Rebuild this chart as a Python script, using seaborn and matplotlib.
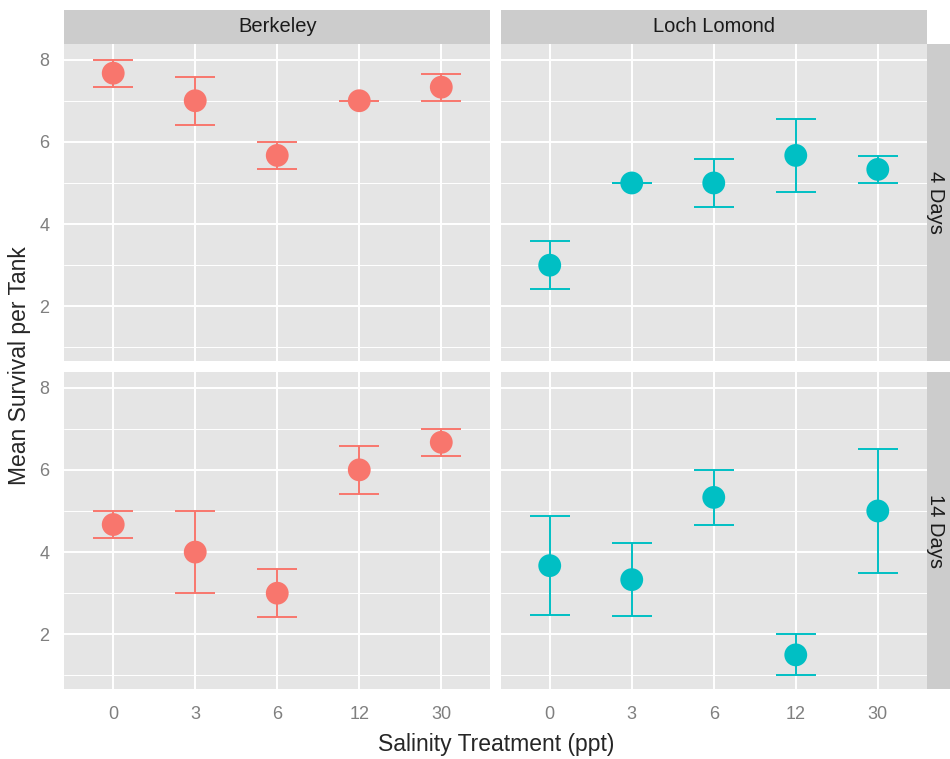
import numpy as np
import pandas as pd
import matplotlib
matplotlib.use("Agg")
import matplotlib.pyplot as plt
import seaborn as sns
from matplotlib.patches import Rectangle

# ── data ──────────────────────────────────────────────────────────────────────
salinity    = ["0", "3", "6", "12", "30"]
populations = ["Berkeley", "Loch Lomond"]
durations   = ["4 Days", "14 Days"]

berkeley_4_mean  = [7.67, 7.00, 5.67, 7.00, 7.33]
berkeley_4_se    = [0.33, 0.58, 0.33, 0.00, 0.33]
loch_4_mean      = [3.00, 5.00, 5.00, 5.67, 5.33]
loch_4_se        = [0.58, 0.00, 0.58, 0.88, 0.33]
berkeley_14_mean = [4.67, 4.00, 3.00, 6.00, 6.67]
berkeley_14_se   = [0.33, 1.00, 0.58, 0.58, 0.33]
loch_14_mean     = [3.67, 3.33, 5.33, 1.50, 5.00]
loch_14_se       = [1.20, 0.88, 0.67, 0.50, 1.50]

palette = {"Berkeley": "#F8766D", "Loch Lomond": "#00BFC4"}

frames = []
for pop, dur, m, se in [
    ("Berkeley",    "4 Days",  berkeley_4_mean,  berkeley_4_se),
    ("Loch Lomond", "4 Days",  loch_4_mean,      loch_4_se),
    ("Berkeley",    "14 Days", berkeley_14_mean, berkeley_14_se),
    ("Loch Lomond", "14 Days", loch_14_mean,     loch_14_se),
]:
    frames.append(pd.DataFrame({"population": pop, "duration": dur,
                                "salinity": salinity, "mean": m, "se": se}))
df = pd.concat(frames, ignore_index=True)
df["xpos"] = df["salinity"].map({s: i for i, s in enumerate(salinity)})

# ── style ─────────────────────────────────────────────────────────────────────
sns.set_style("darkgrid", {"axes.facecolor": "#E5E5E5", "grid.color": "white"})
plt.rcParams["font.family"] = ["Liberation Sans", "DejaVu Sans"]


def draw(data, color, **kws):
    ax = plt.gca()
    ax.errorbar(data["xpos"], data["mean"], yerr=data["se"], fmt="none",
                ecolor=color, elinewidth=1.4, capsize=14.5, capthick=1.4, zorder=2)
    sns.scatterplot(x=data["xpos"], y=data["mean"], color=color, s=270,
                    edgecolor="none", ax=ax, zorder=3, legend=False)


g = sns.FacetGrid(df, row="duration", col="population", hue="population",
                  row_order=durations, col_order=populations, palette=palette,
                  sharex=True, sharey=True, height=3.5, aspect=1.3)
g.map_dataframe(draw)
g.set_titles(template="")
g.set_axis_labels("", "")

fig = g.figure
fig.set_size_inches(9.5, 7.59)
fig.subplots_adjust(left=64 / 950, right=927 / 950, top=1 - 44 / 759,
                    bottom=1 - 689 / 759, wspace=0.0235, hspace=11 / 317)

for (r, c), ax in np.ndenumerate(g.axes):
    ax.set_xlim(-0.6, 4.6)
    ax.set_ylim(0.67, 8.38)
    ax.set_xticks(range(len(salinity)))
    ax.set_xticklabels(salinity)
    ax.set_yticks([2, 4, 6, 8])
    ax.set_yticks([1, 3, 5, 7], minor=True)
    ax.grid(which="major", color="white", linewidth=1.4)
    ax.grid(which="minor", axis="y", color="white", linewidth=0.7)
    ax.tick_params(which="major", length=5, width=0.8, color="#4D4D4D",
                   labelcolor="#7F7F7F", labelsize=13)
    ax.tick_params(axis="x", pad=7.5)
    ax.tick_params(axis="y", pad=5.5)
    ax.tick_params(which="minor", length=0)
    if c > 0:
        ax.tick_params(axis="y", length=0)
    if r == 0:
        ax.tick_params(axis="x", length=0)
    for s in ax.spines.values():
        s.set_visible(False)

    h = ax.get_window_extent().height
    w = ax.get_window_extent().width
    if r == 0:
        ax.add_patch(Rectangle((0, 1), 1, 34 / h, transform=ax.transAxes,
                               facecolor="#CCCCCC", edgecolor="none", clip_on=False))
        ax.text(0.5, 1 + 17 / h, populations[c], transform=ax.transAxes,
                ha="center", va="center", fontsize=14.5, color="#1A1A1A")
    if c == len(populations) - 1:
        ax.add_patch(Rectangle((1, 0), 34 / w, 1, transform=ax.transAxes,
                               facecolor="#CCCCCC", edgecolor="none", clip_on=False))
        ax.text(1 + 8 / w, 0.5, durations[r], transform=ax.transAxes,
                ha="center", va="center", rotation=-90, fontsize=14.5, color="#1A1A1A")

fig.text(496 / 950, 1 - 744 / 759, "Salinity Treatment (ppt)",
         ha="center", va="center", fontsize=16.5)
fig.text(20 / 950, 1 - 366 / 759, "Mean Survival per Tank",
         ha="center", va="center", rotation=90, fontsize=16.5)

fig.savefig("out.png", dpi=100)
